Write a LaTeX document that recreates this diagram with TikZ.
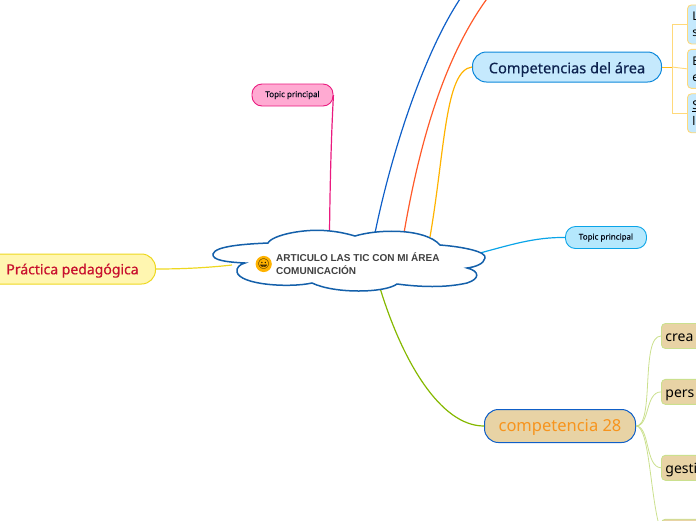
\documentclass[tikz,border=0pt]{standalone}
\usepackage{fontspec}
\usetikzlibrary{positioning}
\setmainfont{Noto Sans}
\newfontfamily\titlefont{Liberation Sans}
\newfontfamily\topicfont[FakeBold=0.5]{Noto Sans}
\newfontfamily\emojifont{Noto Emoji}
\definecolor{skyfill}{HTML}{C5E9FD}
\definecolor{sandfill}{HTML}{E8D3A5}
\definecolor{softgreen}{HTML}{CBE08E}
\definecolor{softgold}{HTML}{FFD97A}
\definecolor{cloudblue}{HTML}{1460AA}
\definecolor{pinkline}{HTML}{EA1A7F}
\definecolor{pinkfill}{HTML}{FFAAD2}
\definecolor{blueline}{HTML}{0F5FC8}
\definecolor{redline}{HTML}{FF5A2A}
\definecolor{goldline}{HTML}{FFB300}
\definecolor{cyanline}{HTML}{0AA4E8}
\definecolor{cyanfill}{HTML}{B5E8FD}
\definecolor{yelline}{HTML}{EED820}
\definecolor{yelfill}{HTML}{FFF6B0}
\definecolor{greenline}{HTML}{85B800}
\definecolor{navytext}{HTML}{0D2350}
\definecolor{redtext}{HTML}{C8102E}
\definecolor{orangetext}{HTML}{F7941D}

\begin{document}
\begin{tikzpicture}[
  x=1pt, y=-1pt,
  pill/.style={draw, rounded corners=14pt, line width=1pt, minimum height=30pt, inner sep=0pt, align=center, text depth=0pt},
  smalltopic/.style={draw, rounded corners=10pt, line width=0.9pt, minimum height=22pt, minimum width=81pt,
                     inner sep=0pt, font=\topicfont\fontsize{8}{10}\selectfont, text=black!70!navytext},
  skyleaf/.style={draw=softgold, fill=skyfill, rounded corners=4pt, line width=0.9pt, minimum width=60pt, minimum height=39pt,
                  inner xsep=5pt, inner ysep=0pt, text width=50pt, font=\fontsize{12}{16}\selectfont},
  sandleaf/.style={draw=softgreen, fill=sandfill, rounded corners=4pt, line width=0.9pt, minimum width=80pt, minimum height=25pt,
                   inner xsep=4pt, inner ysep=0pt, text width=72pt, text height=11.4pt, text depth=0pt, font=\fontsize{14}{16}\selectfont},
  ar/.style={line width=1.2pt},
  thin leaf/.style={draw=softgreen, line width=0.8pt}
]
\useasboundingbox (0,0) rectangle (696,520);
\clip (0,0) rectangle (696,520);

% main topics
\node[pill, anchor=west, minimum width=189pt, fill=skyfill, draw=cyanline!60!blueline, text=navytext, text height=12.6pt,
      font=\topicfont\fontsize{14.6}{18}\selectfont] (comp) at (472,67) {Competencias del área};
\node[pill, anchor=east, minimum width=170pt, fill=yelfill, draw=yelline, text=redtext, text height=10.6pt,
      font=\topicfont\fontsize{14}{18}\selectfont] (prac) at (156,269) {\hspace*{4pt}Práctica pedagógica};
\node[pill, anchor=west, minimum width=151pt, minimum height=33pt, fill=sandfill, draw=blueline, text=orangetext, text height=11.5pt,
      font=\fontsize{16.5}{18}\selectfont] (c28) at (484,426) {competencia 28};
\node[smalltopic, fill=pinkfill, draw=pinkline] (tpink) at (292.5,95) {Topic principal};
\node[smalltopic, fill=cyanfill, draw=cyanline] (tblue) at (606,237.5) {Topic principal};

% leaves
\node[skyleaf, anchor=north west] (la) at (687,4.5) {L\\s};
\node[skyleaf, below=4.5pt of la] (lb) {E\\e};
\node[skyleaf, below=4.5pt of lb] (lc) {\underline{S}\\l};
\node[sandleaf, anchor=west] (sa) at (661,336) {crea};
\node[sandleaf, below=30pt of sa] (sb) {pers};
\node[sandleaf, below=50pt of sb] (sc) {gesti};
\node[sandleaf, below=38pt of sc] (sd) {};

% ends on the cloud and off the page
\coordinate (cpink) at (329.5,232);
\coordinate (cblue) at (375,233);
\coordinate (cred) at (404,233);
\coordinate (cgold) at (430,237);
\coordinate (ccyan) at (480,253);
\coordinate (cyel) at (232,265);
\coordinate (cgreen) at (380,288);
\coordinate (blueend) at (462,-4);
\coordinate (redend) at (489,-4);
\coordinate (trunk) at (672,67);

\draw[ar, draw=pinkline] (tpink.east) .. controls (331,140) and (330,190) .. (cpink);
\draw[ar, draw=blueline] (cblue) .. controls (392,150) and (425,50) .. (blueend);
\draw[ar, draw=redline] (cred) .. controls (420,140) and (445,55) .. (redend);
\draw[ar, draw=goldline] (cgold) .. controls (445,150) and (445,70) .. (comp.west);
\draw[ar, draw=cyanline] (ccyan) .. controls (510,245) and (535,237) .. (tblue.west);
\draw[ar, draw=yelline] (prac.east) .. controls (180,269) and (205,268) .. (cyel);
\draw[ar, draw=greenline] (cgreen) .. controls (402,360) and (440,426) .. (c28.west);

\draw[draw=goldline!80!softgold, line width=1pt] (comp.east) -- (trunk);
\draw[draw=softgold, line width=0.9pt] (trunk) |- (la.west);
\draw[draw=softgold, line width=0.9pt] (trunk) -- (lb.west);
\draw[draw=softgold, line width=0.9pt] (trunk) |- (lc.west);

\draw[thin leaf] (c28.east) .. controls (655,426) and (640,336) .. (sa.west);
\draw[thin leaf] (c28.east) .. controls (650,426) and (645,392) .. (sb.west);
\draw[thin leaf] (c28.east) .. controls (650,426) and (645,467) .. (sc.west);
\draw[thin leaf] (c28.east) .. controls (650,426) and (650,500) .. (sd.west);

% the cloud
\draw[draw=cloudblue, fill=white, line width=1.5pt]
  (213,254) .. controls (215,246) and (245,244) .. (268,243)
  .. controls (272,235) and (305,228) .. (330,231)
  .. controls (340,232) and (348,234) .. (355,236)
  .. controls (378,229) and (425,228) .. (440,245)
  .. controls (465,247) and (487,252) .. (485,258)
  .. controls (484,264) and (475,267) .. (467,268)
  .. controls (480,271) and (480,279) .. (467,283)
  .. controls (445,288) and (420,287) .. (397,284)
  .. controls (385,293) and (335,294) .. (312,283)
  .. controls (290,288) and (240,285) .. (237,272)
  .. controls (236,268) and (240,264) .. (245,263)
  .. controls (225,262) and (212,260) .. (213,254) -- cycle;
\node[anchor=west, inner sep=0pt, align=left, text=black!75, font=\titlefont\fontsize{10}{13}\selectfont\bfseries] (title) at (276,264)
  {ARTICULO LAS TIC CON MI ÁREA\\COMUNICACIÓN};
\node[left=4pt of title, circle, fill=goldline, inner sep=0pt, minimum size=12pt, font=\emojifont\fontsize{10}{10}\selectfont] (smile) {😀};
\end{tikzpicture}
\end{document}
